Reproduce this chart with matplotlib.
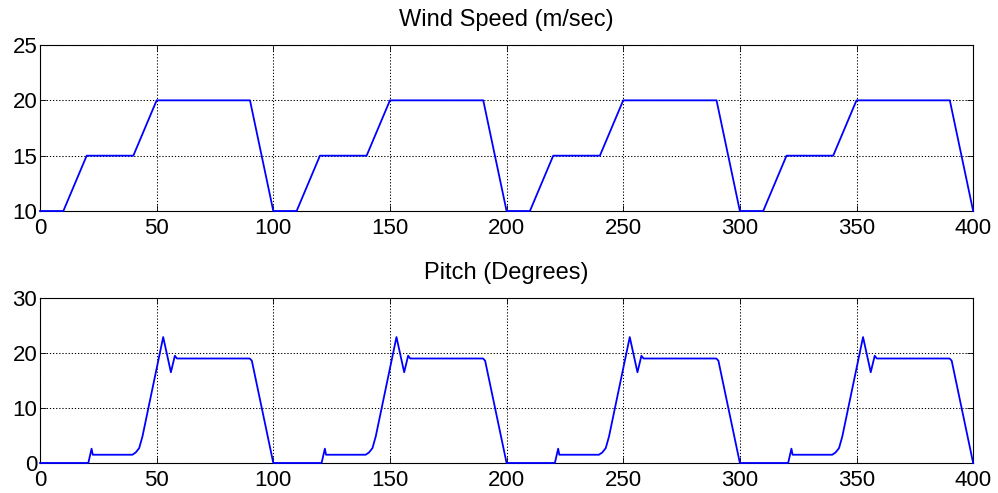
import matplotlib
matplotlib.use("Agg")
import matplotlib.pyplot as plt

plt.rcParams['font.family'] = ['Liberation Sans', 'DejaVu Sans']

# wind speed breakpoints (s, m/sec)
wind_t = [0, 10, 20, 40, 50, 90, 100,
          110, 120, 140, 150, 190, 200,
          210, 220, 240, 250, 290, 300,
          310, 320, 340, 350, 390, 400]
wind_v = [10, 10, 15, 15, 20, 20, 10,
          10, 15, 15, 20, 20, 10,
          10, 15, 15, 20, 20, 10,
          10, 15, 15, 20, 20, 10]

# pitch angle breakpoints (s, degrees)
pitch_t = [0, 20.7, 22.1, 22.6, 39.6, 41.0, 42.5, 43.9, 52.8, 56.1, 57.8, 58.7, 89.9, 90.8, 100,
           120.7, 122.1, 122.6, 139.6, 141.0, 142.5, 143.9, 152.8, 156.1, 157.8, 158.7, 189.9, 190.8, 200,
           220.7, 222.1, 222.6, 239.6, 241.0, 242.5, 243.9, 252.8, 256.1, 257.8, 258.7, 289.9, 290.8, 300,
           320.7, 322.1, 322.6, 339.6, 341.0, 342.5, 343.9, 352.8, 356.1, 357.8, 358.7, 389.9, 390.8, 400]
pitch_v = [0, 0, 2.6, 1.5, 1.5, 1.9, 2.7, 4.8, 22.9, 16.5, 19.5, 19.0, 19.0, 18.6, 0,
           0, 2.6, 1.5, 1.5, 1.9, 2.7, 4.8, 22.9, 16.5, 19.5, 19.0, 19.0, 18.6, 0,
           0, 2.6, 1.5, 1.5, 1.9, 2.7, 4.8, 22.9, 16.5, 19.5, 19.0, 19.0, 18.6, 0,
           0, 2.6, 1.5, 1.5, 1.9, 2.7, 4.8, 22.9, 16.5, 19.5, 19.0, 19.0, 18.6, 0]

x_ticks = [0, 50, 100, 150, 200, 250, 300, 350, 400]

fig = plt.figure(figsize=(9.98, 4.93), dpi=100)
ax1 = fig.add_axes([0.0401, 0.572, 0.935, 0.3367])
ax2 = fig.add_axes([0.0401, 0.0609, 0.935, 0.3346])

panels = [
    (ax1, wind_t, wind_v, (10, 25), [10, 15, 20, 25], 'Wind Speed (m/sec)'),
    (ax2, pitch_t, pitch_v, (0, 30), [0, 10, 20, 30], 'Pitch (Degrees)'),
]

for ax, t, v, ylim, yt, title in panels:
    ax.plot(t, v, color='#0000ff', lw=1.3, clip_on=False, zorder=3)
    ax.set_xlim(0, 400)
    ax.set_ylim(*ylim)
    ax.set_xticks(x_ticks)
    ax.set_yticks(yt)
    ax.grid(True, color='black', linestyle=(0, (1.2, 1.8)), linewidth=0.75)
    ax.tick_params(direction='in', length=4, width=0.6, top=True, right=True,
                   labelsize=16)
    ax.tick_params(axis='x', pad=5)
    ax.tick_params(axis='y', pad=2)
    for s in ax.spines.values():
        s.set_linewidth(0.8)
    ax.set_title(title, fontsize=17, pad=13.5)

fig.savefig('out.png', dpi=100)
